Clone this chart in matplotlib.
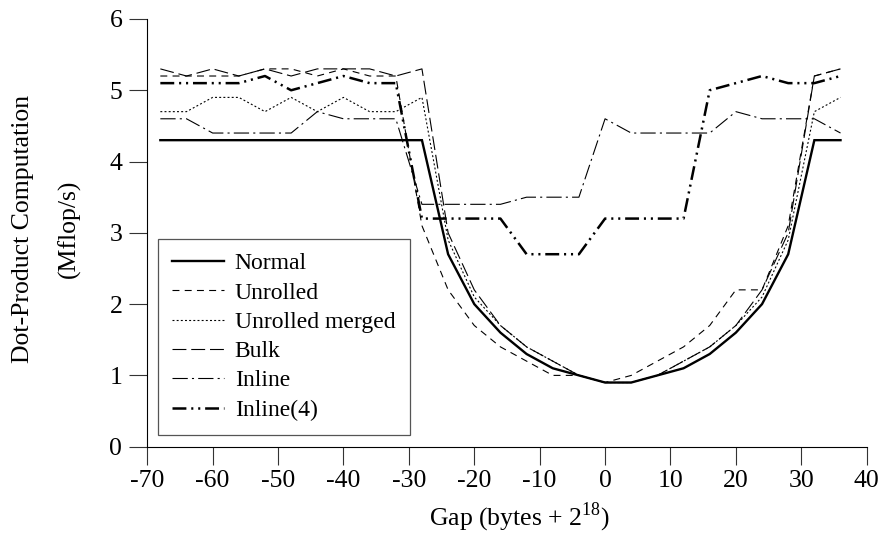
import matplotlib
matplotlib.use("Agg")
import matplotlib.pyplot as plt

# gap offsets (bytes + 2^18) and measured Mflop/s per variant
gaps = [-68, -64, -60, -56, -52, -48, -44, -40, -36, -32, -28, -24, -20, -16,
        -12, -8, -4, 0, 4, 8, 12, 16, 20, 24, 28, 32, 36]

normal = [4.3, 4.3, 4.3, 4.3, 4.3, 4.3, 4.3, 4.3, 4.3, 4.3, 4.3, 2.7, 2.0, 1.6,
          1.3, 1.1, 1.0, 0.9, 0.9, 1.0, 1.1, 1.3, 1.6, 2.0, 2.7, 4.3, 4.3]
unrolled = [5.2, 5.2, 5.2, 5.2, 5.3, 5.3, 5.2, 5.3, 5.2, 5.2, 3.1, 2.2, 1.7, 1.4,
            1.2, 1.0, 1.0, 0.9, 1.0, 1.2, 1.4, 1.7, 2.2, 2.2, 3.1, 5.2, 5.3]
unrolled_merged = [4.7, 4.7, 4.9, 4.9, 4.7, 4.9, 4.7, 4.9, 4.7, 4.7, 4.9, 2.9, 2.1, 1.7,
                   1.4, 1.2, 1.0, 0.9, 0.9, 1.0, 1.2, 1.4, 1.7, 2.1, 2.9, 4.7, 4.9]
bulk = [5.3, 5.2, 5.3, 5.2, 5.3, 5.2, 5.3, 5.3, 5.3, 5.2, 5.3, 3.0, 2.2, 1.7,
        1.4, 1.2, 1.0, 0.9, 0.9, 1.0, 1.2, 1.4, 1.7, 2.2, 3.0, 5.2, 5.3]
inline = [4.6, 4.6, 4.4, 4.4, 4.4, 4.4, 4.7, 4.6, 4.6, 4.6, 3.4, 3.4, 3.4, 3.4,
          3.5, 3.5, 3.5, 4.6, 4.4, 4.4, 4.4, 4.4, 4.7, 4.6, 4.6, 4.6, 4.4]
inline4 = [5.1, 5.1, 5.1, 5.1, 5.2, 5.0, 5.1, 5.2, 5.1, 5.1, 3.2, 3.2, 3.2, 3.2,
           2.7, 2.7, 2.7, 3.2, 3.2, 3.2, 3.2, 5.0, 5.1, 5.2, 5.1, 5.1, 5.2]

labels = ["Normal", "Unrolled", "Unrolled merged", "Bulk", "Inline", "Inline(4)"]
x_ticks = [-70, -60, -50, -40, -30, -20, -10, 0, 10, 20, 30, 40]
y_ticks = [0, 1, 2, 3, 4, 5, 6]

plt.rcParams["font.family"] = ["Liberation Serif", "DejaVu Serif"]
plt.rcParams["mathtext.fontset"] = "custom"
plt.rcParams["mathtext.rm"] = "Liberation Serif"
plt.rcParams["lines.scale_dashes"] = False
plt.rcParams["axes.unicode_minus"] = False

fig = plt.figure(figsize=(8.85, 5.44), dpi=100)
ax = fig.add_axes([0.1664, 0.1789, 0.8129, 0.7862])

styles = [
    dict(lw=1.7, ls="-"),
    dict(lw=0.8, ls=(0, (5, 3.8))),
    dict(lw=0.8, ls=(0, (1.4, 1.6))),
    dict(lw=0.8, ls=(0, (10, 3.5))),
    dict(lw=0.8, ls=(0, (11, 3, 1.5, 3))),
    dict(lw=1.8, ls=(0, (10, 3.5, 1.5, 3.5, 1.5, 3.5))),
]
series = [normal, unrolled, unrolled_merged, bulk, inline, inline4]
for vals, lab, st in zip(series, labels, styles):
    ax.plot(gaps, vals, color="black", label=lab, solid_joinstyle="miter", **st)

ax.set_xlim(-70, 40)
ax.set_ylim(0, 6)
ax.set_xticks(x_ticks)
ax.set_yticks(y_ticks)
ax.spines["top"].set_visible(False)
ax.spines["right"].set_visible(False)
for s in ("left", "bottom"):
    ax.spines[s].set_linewidth(0.8)
ax.tick_params(direction="out", length=13, width=0.8, color="#333333", labelsize=18.5)
ax.tick_params(axis="x", pad=4)
ax.tick_params(axis="y", pad=5)

leg = ax.legend(loc="lower left", bbox_to_anchor=(0.0149, 0.0274), borderaxespad=0,
                frameon=True, fancybox=False, edgecolor="#555555", framealpha=1,
                fontsize=17, handlelength=2.2, handletextpad=0.45, borderpad=0.6,
                labelspacing=0.33)
leg.get_frame().set_linewidth(0.9)

fig.text(23 / 885, 1 - 229 / 544, "Dot-Product Computation", rotation=90,
         ha="center", va="center", fontsize=18.5)
fig.text(69 / 885, 1 - 229 / 544, "(Mflop/s)", rotation=90,
         ha="center", va="center", fontsize=18.5)
fig.text(519 / 885, 1 - 517 / 544, "Gap (bytes + 2$^{18}$)", ha="center", va="center",
         fontsize=18.5)

fig.savefig("out.png", dpi=100)
